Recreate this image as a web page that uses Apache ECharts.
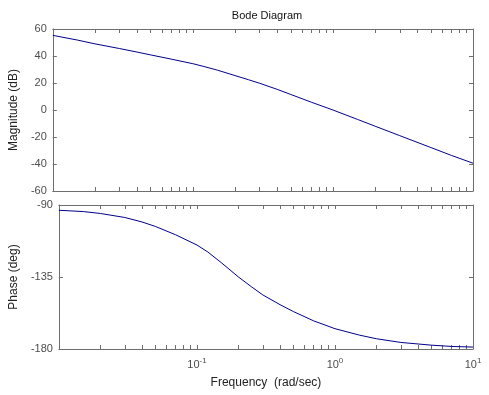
<!DOCTYPE html>
<html>
<head>
<meta charset="utf-8">
<script src="https://cdn.jsdelivr.net/npm/echarts@6/dist/echarts.min.js"></script>
<style>
html, body { margin: 0; padding: 0; background: #fff; }
#chart { width: 489px; height: 395px; }
</style>
</head>
<body>
<div id="chart"></div>
<script>
// frequencies (rad/sec)
var freq = [0.01, 0.015, 0.02, 0.03, 0.04, 0.05, 0.07, 0.1, 0.12, 0.15, 0.2, 0.25, 0.3, 0.4, 0.5, 0.7, 1, 1.5, 2, 3, 5, 7, 10];
// magnitude (dB)
var magnitude = [55.3, 51.8, 49.0, 45.5, 42.9, 40.8, 37.7, 34.3, 32.2, 29.5, 25.5, 22.4, 19.8, 15.3, 11.5, 5.8, 0.0, -7.0, -12.0, -19.0, -27.8, -33.6, -39.4];
// phase (deg)
var phase = [-93.3, -94.1, -95.3, -97.8, -100.6, -103.4, -108.6, -115, -119.4, -126, -135, -141.3, -146.2, -152.3, -156.6, -162.4, -167.3, -171.3, -173.6, -175.9, -177.6, -178.4, -178.8];

var magTicks = [-60, -40, -20, 0, 20, 40, 60];
var phaseTicks = [-180, -135, -90];
var freqLabels = [0.1, 1, 10];
var freqTicks = [0.02, 0.03, 0.04, 0.05, 0.06, 0.07, 0.08, 0.09, 0.1,
	0.2, 0.3, 0.4, 0.5, 0.6, 0.7, 0.8, 0.9, 1,
	2, 3, 4, 5, 6, 7, 8, 9];

var frameColor = '#6e6e6e';
var labelColor = '#4d4d4d';
var font = 'Liberation Sans, Arial, sans-serif';

var pairs = function(xs, ys) {
	return xs.map(function(x, i) { return [x, ys[i]]; });
};

var xAxisFor = function(gridIndex, position, withLabels) {
	var ax = {
		type: 'log',
		logBase: 10,
		gridIndex: gridIndex,
		position: position,
		min: 0.01,
		max: 10,
		axisLine: { show: true, onZero: false, lineStyle: { color: frameColor, width: 1 } },
		axisTick: { show: true, inside: true, length: 4, customValues: freqTicks, lineStyle: { color: frameColor } },
		splitLine: { show: false },
		minorTick: { show: false },
		axisLabel: { show: false }
	};
	if (withLabels) {
		ax.axisLabel = {
			show: true,
			customValues: freqLabels,
			margin: 8,
			color: labelColor,
			fontFamily: font,
			fontSize: 11,
			formatter: function(v) {
				var e = Math.round(Math.log10(v));
				return '10{s|' + e + '}';
			},
			rich: {
				s: { fontSize: 8, color: labelColor, fontFamily: font, padding: [0, 0, 8, 0] }
			}
		};
		ax.name = 'Frequency  (rad/sec)';
		ax.nameLocation = 'middle';
		ax.nameGap = 28;
		ax.nameTextStyle = { color: '#222', fontFamily: font, fontSize: 12 };
	}
	return ax;
};

var yAxisFor = function(gridIndex, position, min, max, interval, name, gap) {
	var ax = {
		type: 'value',
		gridIndex: gridIndex,
		position: position,
		min: min,
		max: max,
		interval: interval,
		axisLine: { show: true, lineStyle: { color: frameColor, width: 1 } },
		axisTick: { show: true, inside: true, length: 4, lineStyle: { color: frameColor } },
		splitLine: { show: false },
		axisLabel: { show: position === 'left', color: labelColor, fontFamily: font, fontSize: 11, margin: 6 }
	};
	if (name) {
		ax.name = name;
		ax.nameLocation = 'middle';
		ax.nameGap = gap;
		ax.nameTextStyle = { color: '#222', fontFamily: font, fontSize: 12 };
	}
	return ax;
};

var chart = echarts.init(document.getElementById('chart'));
var option = {
	backgroundColor: '#fff',
	animation: false,
	title: {
		text: 'Bode Diagram',
		left: 262,
		textAlign: 'center',
		top: 5,
		textStyle: { color: '#111', fontFamily: font, fontSize: 11, fontWeight: 'normal' }
	},
	grid: [
		{ left: 52, top: 29, width: 421, height: 162 },
		{ left: 52, top: 205, width: 421, height: 144 }
	],
	xAxis: [
		xAxisFor(0, 'bottom', false),
		xAxisFor(0, 'top', false),
		xAxisFor(1, 'bottom', true),
		xAxisFor(1, 'top', false)
	],
	yAxis: [
		yAxisFor(0, 'left', magTicks[0], magTicks[magTicks.length - 1], 20, 'Magnitude (dB)', 29),
		yAxisFor(0, 'right', magTicks[0], magTicks[magTicks.length - 1], 20),
		yAxisFor(1, 'left', phaseTicks[0], phaseTicks[phaseTicks.length - 1], 45, 'Phase (deg)', 36),
		yAxisFor(1, 'right', phaseTicks[0], phaseTicks[phaseTicks.length - 1], 45)
	],
	series: [
		{
			name: 'Magnitude',
			type: 'line',
			xAxisIndex: 0,
			yAxisIndex: 0,
			data: pairs(freq, magnitude),
			showSymbol: false,
			smooth: false,
			lineStyle: { color: '#00008b', width: 1 }
		},
		{
			name: 'Phase',
			type: 'line',
			xAxisIndex: 2,
			yAxisIndex: 2,
			data: pairs(freq, phase),
			showSymbol: false,
			smooth: false,
			lineStyle: { color: '#00008b', width: 1 }
		}
	]
};
chart.setOption(option);
</script>
</body>
</html>
